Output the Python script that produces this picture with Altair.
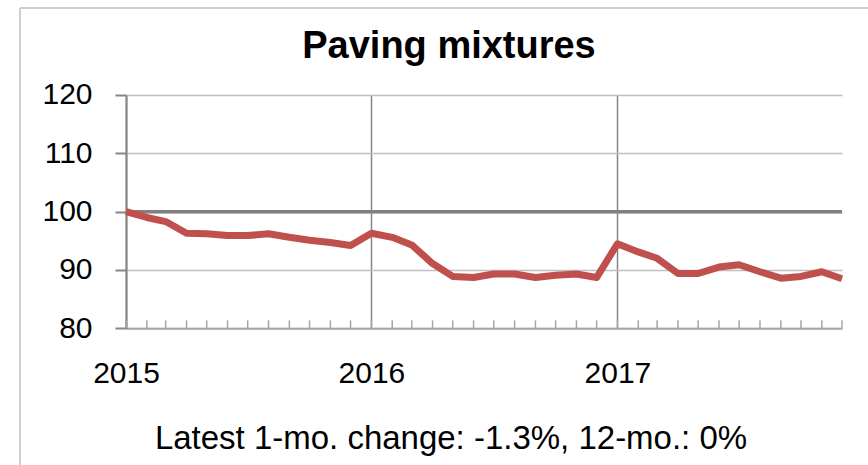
import altair as alt
import pandas as pd

# Monthly producer price index for paving mixtures (Jan 2015 = 100)
months = pd.date_range("2015-01-01", "2017-12-01", freq="MS").strftime("%Y-%m-%d").tolist()
index_2015 = [100.0, 99.0, 98.3, 96.3, 96.2, 95.9, 95.9, 96.2, 95.6, 95.1, 94.7, 94.2]
index_2016 = [96.3, 95.6, 94.3, 91.1, 88.9, 88.7, 89.3, 89.3, 88.7, 89.1, 89.3, 88.7]
index_2017 = [94.5, 93.1, 92.0, 89.4, 89.4, 90.5, 90.9, 89.7, 88.6, 88.9, 89.7, 88.5]
years = [2015, 2016, 2017]
y_ticks = [80, 90, 100, 110, 120]
baseline = 100

title_text = "Paving mixtures"
note_text = "Latest 1-mo. change: -1.3%, 12-mo.: 0%"

df = pd.DataFrame({"month": months, "index": index_2015 + index_2016 + index_2017})

W, H = 716, 233.3
FONT = "Liberation Sans"

x_enc = alt.X(
    "month:T",
    scale=alt.Scale(
        type="utc",
        domain=[alt.DateTime(year=2015, month=1, date=1, utc=True),
                alt.DateTime(year=2017, month=12, date=1, utc=True)],
    ),
    axis=alt.Axis(
        values=[alt.DateTime(year=y, month=1, date=1, utc=True) for y in years],
        labelExpr="utcFormat(datum.value, '%Y')",
        title=None,
        ticks=False,
        grid=True,
        gridColor="#868686",
        gridWidth=1.5,
        domainColor="#a6a6a6",
        domainWidth=2,
        labelFont=FONT,
        labelFontSize=30,
        labelColor="#000000",
        labelPadding=30,
        labelAngle=0,
        labelFlush=False,
        labelOverlap=False,
    ),
)

y_enc = alt.Y(
    "index:Q",
    scale=alt.Scale(domain=[80, 120], nice=False, zero=False),
    axis=alt.Axis(
        values=y_ticks,
        title=None,
        grid=True,
        gridColor="#c0c0c0",
        gridWidth=1.5,
        domainColor="#868686",
        domainWidth=2,
        tickColor="#868686",
        tickWidth=2,
        tickSize=11,
        labelFont=FONT,
        labelFontSize=30,
        labelColor="#000000",
        labelPadding=23,
    ),
)

# Price index line
line = alt.Chart(df).mark_line(
    color="#c0504d", strokeWidth=7, strokeJoin="round"
).encode(x=x_enc, y=y_enc)

# Reference level at 100
ref = alt.Chart(pd.DataFrame({"level": [baseline]})).mark_rule(
    color="#808080", strokeWidth=3.5
).encode(y=alt.Y("level:Q"))

# Inward monthly tick marks along the bottom axis
month_ticks = alt.Chart(df).mark_rule(
    color="#a6a6a6", strokeWidth=1.5
).encode(x=alt.X("month:T"), y=alt.value(H - 8), y2=alt.value(H))

one = pd.DataFrame({"a": [0]})

title = alt.Chart(pd.DataFrame({"label": [title_text]})).mark_text(
    font=FONT, fontSize=38, fontWeight="bold", color="#000000",
    align="center", baseline="alphabetic",
).encode(text="label:N", x=alt.value(323), y=alt.value(-37))

note = alt.Chart(pd.DataFrame({"label": [note_text]})).mark_text(
    font=FONT, fontSize=33, color="#000000",
    align="center", baseline="alphabetic",
).encode(text="label:N", x=alt.value(325), y=alt.value(354))

# Outer frame edges of the chart box
frame_top = alt.Chart(one).mark_rule(color="#bfbfbf", strokeWidth=1.5).encode(
    x=alt.value(-106), x2=alt.value(760), y=alt.value(-87)
)
frame_left = alt.Chart(one).mark_rule(color="#bfbfbf", strokeWidth=1.5).encode(
    x=alt.value(-106), y=alt.value(-87), y2=alt.value(380)
)

chart = alt.layer(
    frame_top, frame_left, month_ticks, ref, line, title, note
).properties(
    width=W,
    height=H,
    padding={"left": 126, "top": 95, "right": 26, "bottom": 137},
    autosize=alt.AutoSizeParams(type="none"),
    background="#ffffff",
).configure_view(stroke=None)

chart.save("out.html", embed_options={"renderer": "svg", "actions": False})
